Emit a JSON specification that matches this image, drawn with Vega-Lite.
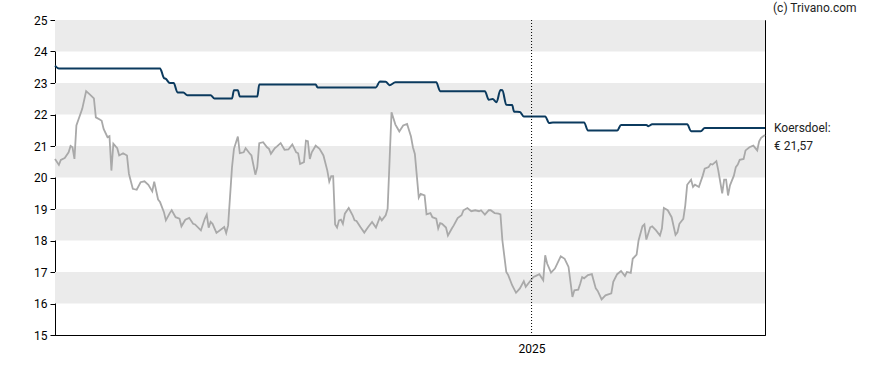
{
  "$schema": "https://vega.github.io/schema/vega-lite/v6.json",
  "width": 710,
  "height": 315,
  "autosize": "none",
  "padding": {"left": 55, "top": 20, "right": 123, "bottom": 35},
  "background": "white",
  "config": {
    "view": {"stroke": "black", "strokeWidth": 1},
    "font": "Roboto"
  },
  "datasets": {
    "bands": [
      {"v": 16, "hi": 17}, {"v": 18, "hi": 19}, {"v": 20, "hi": 21}, {"v": 22, "hi": 23}, {"v": 24, "hi": 25}
    ],
    "price": [
      {"d":"2024-05-01","v":20.59},{"d":"2024-05-03","v":20.40},{"d":"2024-05-04","v":20.56},{"d":"2024-05-06","v":20.62},
      {"d":"2024-05-08","v":20.80},{"d":"2024-05-09","v":21.00},{"d":"2024-05-10","v":20.96},{"d":"2024-05-11","v":20.59},
      {"d":"2024-05-12","v":21.65},{"d":"2024-05-15","v":22.18},{"d":"2024-05-17","v":22.74},{"d":"2024-05-19","v":22.63},
      {"d":"2024-05-21","v":22.51},{"d":"2024-05-22","v":21.91},{"d":"2024-05-24","v":21.84},{"d":"2024-05-25","v":21.80},
      {"d":"2024-05-26","v":21.54},{"d":"2024-05-28","v":21.28},{"d":"2024-05-29","v":21.31},{"d":"2024-05-30","v":20.22},
      {"d":"2024-05-31","v":21.07},{"d":"2024-06-02","v":20.93},{"d":"2024-06-03","v":20.70},{"d":"2024-06-05","v":20.77},
      {"d":"2024-06-07","v":20.70},{"d":"2024-06-08","v":20.12},{"d":"2024-06-10","v":19.64},{"d":"2024-06-12","v":19.61},
      {"d":"2024-06-14","v":19.85},{"d":"2024-06-16","v":19.88},{"d":"2024-06-18","v":19.77},{"d":"2024-06-20","v":19.56},
      {"d":"2024-06-21","v":19.87},{"d":"2024-06-23","v":19.30},{"d":"2024-06-24","v":19.22},{"d":"2024-06-26","v":18.90},
      {"d":"2024-06-27","v":18.64},{"d":"2024-06-29","v":18.87},{"d":"2024-06-30","v":18.96},{"d":"2024-07-02","v":18.74},
      {"d":"2024-07-04","v":18.69},{"d":"2024-07-05","v":18.45},{"d":"2024-07-07","v":18.66},{"d":"2024-07-09","v":18.72},
      {"d":"2024-07-11","v":18.53},{"d":"2024-07-12","v":18.51},{"d":"2024-07-15","v":18.32},{"d":"2024-07-17","v":18.69},
      {"d":"2024-07-18","v":18.82},{"d":"2024-07-19","v":18.41},{"d":"2024-07-20","v":18.59},{"d":"2024-07-21","v":18.53},
      {"d":"2024-07-23","v":18.24},{"d":"2024-07-26","v":18.38},{"d":"2024-07-27","v":18.43},{"d":"2024-07-28","v":18.24},
      {"d":"2024-07-29","v":18.48},{"d":"2024-07-31","v":20.33},{"d":"2024-08-01","v":20.91},{"d":"2024-08-03","v":21.30},
      {"d":"2024-08-04","v":20.77},{"d":"2024-08-06","v":20.80},{"d":"2024-08-07","v":20.93},{"d":"2024-08-09","v":20.77},
      {"d":"2024-08-10","v":20.70},{"d":"2024-08-12","v":20.09},{"d":"2024-08-13","v":20.33},{"d":"2024-08-14","v":21.09},
      {"d":"2024-08-16","v":21.12},{"d":"2024-08-18","v":20.96},{"d":"2024-08-19","v":20.91},{"d":"2024-08-20","v":20.75},
      {"d":"2024-08-22","v":20.93},{"d":"2024-08-23","v":20.98},{"d":"2024-08-25","v":21.09},{"d":"2024-08-27","v":20.88},
      {"d":"2024-08-29","v":20.89},{"d":"2024-08-31","v":21.05},{"d":"2024-09-02","v":20.80},{"d":"2024-09-03","v":20.77},
      {"d":"2024-09-04","v":20.43},{"d":"2024-09-06","v":20.49},{"d":"2024-09-07","v":21.17},{"d":"2024-09-08","v":21.15},
      {"d":"2024-09-09","v":20.59},{"d":"2024-09-10","v":20.80},{"d":"2024-09-12","v":21.01},{"d":"2024-09-14","v":20.91},
      {"d":"2024-09-16","v":20.70},{"d":"2024-09-18","v":20.22},{"d":"2024-09-19","v":19.87},{"d":"2024-09-20","v":20.04},
      {"d":"2024-09-21","v":20.04},{"d":"2024-09-22","v":18.51},{"d":"2024-09-23","v":18.41},{"d":"2024-09-24","v":18.64},
      {"d":"2024-09-25","v":18.66},{"d":"2024-09-26","v":18.53},{"d":"2024-09-27","v":18.85},{"d":"2024-09-29","v":19.03},
      {"d":"2024-10-01","v":18.80},{"d":"2024-10-02","v":18.64},{"d":"2024-10-03","v":18.62},{"d":"2024-10-05","v":18.43},
      {"d":"2024-10-07","v":18.25},{"d":"2024-10-09","v":18.43},{"d":"2024-10-11","v":18.59},{"d":"2024-10-13","v":18.41},
      {"d":"2024-10-15","v":18.74},{"d":"2024-10-16","v":18.64},{"d":"2024-10-18","v":18.80},{"d":"2024-10-19","v":19.01},
      {"d":"2024-10-20","v":20.54},{"d":"2024-10-21","v":22.07},{"d":"2024-10-23","v":21.68},{"d":"2024-10-24","v":21.57},
      {"d":"2024-10-25","v":21.46},{"d":"2024-10-27","v":21.65},{"d":"2024-10-29","v":21.70},{"d":"2024-10-31","v":21.30},
      {"d":"2024-11-01","v":20.96},{"d":"2024-11-02","v":20.75},{"d":"2024-11-03","v":20.06},{"d":"2024-11-04","v":19.36},
      {"d":"2024-11-05","v":19.48},{"d":"2024-11-07","v":19.43},{"d":"2024-11-08","v":18.83},{"d":"2024-11-10","v":18.87},
      {"d":"2024-11-11","v":18.74},{"d":"2024-11-13","v":18.69},{"d":"2024-11-14","v":18.38},{"d":"2024-11-15","v":18.55},
      {"d":"2024-11-16","v":18.53},{"d":"2024-11-18","v":18.41},{"d":"2024-11-19","v":18.16},{"d":"2024-11-21","v":18.38},
      {"d":"2024-11-22","v":18.48},{"d":"2024-11-24","v":18.71},{"d":"2024-11-26","v":18.80},{"d":"2024-11-27","v":18.96},
      {"d":"2024-11-29","v":19.03},{"d":"2024-12-01","v":18.93},{"d":"2024-12-03","v":18.96},{"d":"2024-12-05","v":18.93},
      {"d":"2024-12-06","v":18.96},{"d":"2024-12-08","v":18.82},{"d":"2024-12-10","v":18.96},{"d":"2024-12-11","v":18.96},
      {"d":"2024-12-13","v":18.87},{"d":"2024-12-15","v":18.85},{"d":"2024-12-16","v":18.83},{"d":"2024-12-17","v":18.00},
      {"d":"2024-12-19","v":17.00},{"d":"2024-12-20","v":16.90},{"d":"2024-12-22","v":16.58},{"d":"2024-12-24","v":16.34},
      {"d":"2024-12-26","v":16.48},{"d":"2024-12-28","v":16.71},{"d":"2024-12-29","v":16.53},{"d":"2024-12-31","v":16.69},
      {"d":"2025-01-02","v":16.84},{"d":"2025-01-03","v":16.87},{"d":"2025-01-05","v":16.93},{"d":"2025-01-07","v":16.74},
      {"d":"2025-01-08","v":17.53},{"d":"2025-01-09","v":17.27},{"d":"2025-01-11","v":16.98},{"d":"2025-01-13","v":17.11},
      {"d":"2025-01-15","v":17.37},{"d":"2025-01-16","v":17.50},{"d":"2025-01-18","v":17.42},{"d":"2025-01-19","v":17.29},
      {"d":"2025-01-20","v":17.16},{"d":"2025-01-22","v":16.21},{"d":"2025-01-23","v":16.42},{"d":"2025-01-25","v":16.44},
      {"d":"2025-01-26","v":16.63},{"d":"2025-01-27","v":16.84},{"d":"2025-01-28","v":16.80},{"d":"2025-01-30","v":16.90},
      {"d":"2025-02-01","v":16.93},{"d":"2025-02-03","v":16.48},{"d":"2025-02-04","v":16.40},{"d":"2025-02-06","v":16.13},
      {"d":"2025-02-08","v":16.26},{"d":"2025-02-11","v":16.32},{"d":"2025-02-12","v":16.69},{"d":"2025-02-14","v":16.93},
      {"d":"2025-02-16","v":17.03},{"d":"2025-02-18","v":16.87},{"d":"2025-02-19","v":17.00},{"d":"2025-02-21","v":16.97},
      {"d":"2025-02-22","v":17.42},{"d":"2025-02-24","v":17.55},{"d":"2025-02-25","v":18.00},{"d":"2025-02-27","v":18.45},
      {"d":"2025-02-28","v":18.51},{"d":"2025-03-01","v":18.03},{"d":"2025-03-03","v":18.42},{"d":"2025-03-04","v":18.45},
      {"d":"2025-03-06","v":18.32},{"d":"2025-03-08","v":18.16},{"d":"2025-03-09","v":18.38},{"d":"2025-03-10","v":19.03},
      {"d":"2025-03-12","v":18.96},{"d":"2025-03-14","v":18.74},{"d":"2025-03-16","v":18.18},{"d":"2025-03-17","v":18.26},
      {"d":"2025-03-18","v":18.53},{"d":"2025-03-20","v":18.69},{"d":"2025-03-21","v":19.11},{"d":"2025-03-22","v":19.77},
      {"d":"2025-03-24","v":19.93},{"d":"2025-03-25","v":19.70},{"d":"2025-03-26","v":19.77},{"d":"2025-03-28","v":19.70},
      {"d":"2025-03-30","v":20.06},{"d":"2025-03-31","v":20.28},{"d":"2025-04-02","v":20.33},{"d":"2025-04-03","v":20.43},
      {"d":"2025-04-04","v":20.41},{"d":"2025-04-06","v":20.52},{"d":"2025-04-07","v":20.22},{"d":"2025-04-09","v":19.50},
      {"d":"2025-04-10","v":19.93},{"d":"2025-04-11","v":19.93},{"d":"2025-04-12","v":19.43},{"d":"2025-04-13","v":19.75},
      {"d":"2025-04-15","v":20.06},{"d":"2025-04-16","v":20.33},{"d":"2025-04-17","v":20.41},{"d":"2025-04-18","v":20.56},
      {"d":"2025-04-20","v":20.59},{"d":"2025-04-21","v":20.86},{"d":"2025-04-23","v":20.96},{"d":"2025-04-25","v":21.01},
      {"d":"2025-04-27","v":20.86},{"d":"2025-04-28","v":21.15},{"d":"2025-04-29","v":21.26},{"d":"2025-05-01","v":21.35}
    ],
    "target": [
      {"d":"2024-05-01","v":23.55},{"d":"2024-05-03","v":23.46},{"d":"2024-06-24","v":23.46},{"d":"2024-06-26","v":23.16},
      {"d":"2024-06-27","v":23.13},{"d":"2024-06-29","v":23.00},{"d":"2024-07-01","v":23.00},{"d":"2024-07-03","v":22.70},
      {"d":"2024-07-06","v":22.70},{"d":"2024-07-08","v":22.61},{"d":"2024-07-20","v":22.61},{"d":"2024-07-22","v":22.51},
      {"d":"2024-07-31","v":22.51},{"d":"2024-08-01","v":22.77},{"d":"2024-08-03","v":22.77},{"d":"2024-08-04","v":22.57},
      {"d":"2024-08-13","v":22.57},{"d":"2024-08-14","v":22.95},{"d":"2024-09-12","v":22.95},{"d":"2024-09-13","v":22.86},
      {"d":"2024-10-13","v":22.86},{"d":"2024-10-15","v":23.05},{"d":"2024-10-18","v":23.04},{"d":"2024-10-20","v":22.93},
      {"d":"2024-10-23","v":23.02},{"d":"2024-11-13","v":23.02},{"d":"2024-11-15","v":22.74},{"d":"2024-12-08","v":22.74},
      {"d":"2024-12-10","v":22.47},{"d":"2024-12-12","v":22.49},{"d":"2024-12-14","v":22.39},{"d":"2024-12-16","v":22.78},
      {"d":"2024-12-17","v":22.77},{"d":"2024-12-19","v":22.31},{"d":"2024-12-22","v":22.30},{"d":"2024-12-23","v":22.09},
      {"d":"2024-12-26","v":22.08},{"d":"2024-12-28","v":21.94},{"d":"2025-01-08","v":21.94},{"d":"2025-01-10","v":21.73},
      {"d":"2025-01-12","v":21.75},{"d":"2025-01-28","v":21.75},{"d":"2025-01-30","v":21.49},{"d":"2025-02-14","v":21.49},
      {"d":"2025-02-16","v":21.67},{"d":"2025-03-01","v":21.67},{"d":"2025-03-02","v":21.63},{"d":"2025-03-04","v":21.69},
      {"d":"2025-03-22","v":21.69},{"d":"2025-03-24","v":21.47},{"d":"2025-03-29","v":21.47},{"d":"2025-03-31","v":21.57},
      {"d":"2025-05-01","v":21.57}
    ],
    "marker": [{"d":"2025-01-01"}],
    "label": [{"d":"2025-05-01","v":21.57,"t":["Koersdoel:","€ 21,57"]}],
    "credit": [{"d":"2025-05-01","v":25,"t":"(c) Trivano.com"}]
  },
  "encoding": {
    "x": {
      "field": "d",
      "type": "temporal",
      "scale": {
        "type": "utc",
        "domain": [
          {"year": 2024, "month": 5, "date": 1, "utc": true},
          {"year": 2025, "month": 5, "date": 1, "utc": true}
        ]
      },
      "axis": {
        "title": null,
        "values": [{"year": 2025, "month": 1, "date": 1, "utc": true}],
        "format": "%Y",
        "ticks": false,
        "tickSize": 0,
        "labelPadding": 8,
        "labelFont": "Roboto",
        "labelFontSize": 12,
        "labelColor": "#000000",
        "domainColor": "#000000",
        "grid": false
      }
    },
    "y": {
      "field": "v",
      "type": "quantitative",
      "scale": {"domain": [15, 25], "nice": false, "zero": false},
      "axis": {
        "title": null,
        "values": [15, 16, 17, 18, 19, 20, 21, 22, 23, 24, 25],
        "labelOverlap": false,
        "tickSize": 5,
        "labelPadding": 3,
        "labelFont": "Roboto",
        "labelFontSize": 12,
        "labelColor": "#000000",
        "tickColor": "#000000",
        "domainColor": "#000000",
        "grid": false
      }
    }
  },
  "layer": [
    {
      "data": {"name": "bands"},
      "mark": {"type": "rect", "color": "#ebebeb"},
      "encoding": {
        "x": null,
        "y2": {"field": "hi"}
      }
    },
    {
      "data": {"name": "price"},
      "mark": {"type": "line", "color": "#a9a9a9", "strokeWidth": 1.8}
    },
    {
      "data": {"name": "target"},
      "mark": {"type": "line", "color": "#0b3a5e", "strokeWidth": 2, "interpolate": "monotone"}
    },
    {
      "data": {"name": "marker"},
      "mark": {"type": "rule", "color": "#000000", "strokeWidth": 1, "strokeDash": [1, 2]},
      "encoding": {"y": null}
    },
    {
      "data": {"name": "label"},
      "mark": {"type": "text", "align": "left", "baseline": "middle", "dx": 9, "dy": 0, "lineHeight": 18, "font": "Roboto", "fontSize": 12, "color": "#222222"},
      "encoding": {"text": {"field": "t"}}
    },
    {
      "data": {"name": "credit"},
      "mark": {"type": "text", "align": "left", "baseline": "middle", "dx": 8, "dy": -12, "font": "Roboto", "fontSize": 12, "color": "#222222"},
      "encoding": {"text": {"field": "t"}}
    }
  ]
}
